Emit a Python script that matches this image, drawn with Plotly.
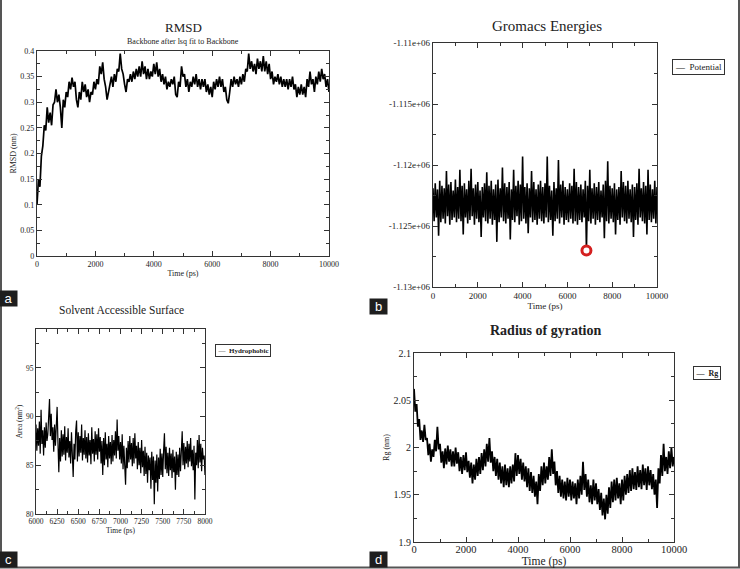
import plotly.graph_objects as go

# ---------------- data ----------------
rmsd_time = list(range(0, 10001, 50))
rmsd_nm = [
    0.100, 0.150, 0.135, 0.195, 0.215, 0.255, 0.245, 0.290, 0.260, 0.280,
    0.255, 0.295, 0.300, 0.325, 0.300, 0.315, 0.290, 0.250, 0.305, 0.290,
    0.320, 0.310, 0.340, 0.325, 0.348, 0.330, 0.340, 0.305, 0.290, 0.320,
    0.305, 0.340, 0.320, 0.335, 0.310, 0.325, 0.300, 0.320, 0.315, 0.340,
    0.325, 0.345, 0.335, 0.370, 0.355, 0.378, 0.345, 0.330, 0.305, 0.320,
    0.335, 0.350, 0.330, 0.355, 0.340, 0.365, 0.360, 0.395, 0.365, 0.355,
    0.335, 0.320, 0.345, 0.340, 0.355, 0.340, 0.360, 0.345, 0.365, 0.350,
    0.370, 0.350, 0.380, 0.355, 0.370, 0.345, 0.365, 0.345, 0.360, 0.350,
    0.375, 0.355, 0.378, 0.350, 0.365, 0.340, 0.355, 0.335, 0.350, 0.325,
    0.340, 0.330, 0.345, 0.335, 0.350, 0.315, 0.310, 0.340, 0.330, 0.370,
    0.350, 0.355, 0.330, 0.345, 0.320, 0.340, 0.330, 0.350, 0.335, 0.355,
    0.330, 0.345, 0.325, 0.345, 0.330, 0.345, 0.320, 0.335, 0.315, 0.330,
    0.310, 0.340, 0.325, 0.345, 0.330, 0.350, 0.330, 0.345, 0.320, 0.330,
    0.305, 0.298, 0.320, 0.345, 0.330, 0.350, 0.335, 0.345, 0.330, 0.350,
    0.335, 0.355, 0.340, 0.365, 0.360, 0.395, 0.365, 0.380, 0.360, 0.375,
    0.355, 0.385, 0.365, 0.380, 0.360, 0.390, 0.360, 0.380, 0.355, 0.375,
    0.345, 0.360, 0.335, 0.350, 0.340, 0.355, 0.335, 0.350, 0.330, 0.345,
    0.330, 0.345, 0.325, 0.345, 0.330, 0.350, 0.325, 0.335, 0.310, 0.330,
    0.315, 0.335, 0.315, 0.330, 0.310, 0.345, 0.330, 0.360, 0.335, 0.345,
    0.320, 0.350, 0.335, 0.360, 0.340, 0.365, 0.345, 0.355, 0.330, 0.345,
    0.320,
]

energy_time = list(range(0, 10001, 50))
potential = [
    -1121900, -1124600, -1121500, -1124300, -1122000, -1125800, -1121300, -1124700, -1121700, -1124400,
    -1121900, -1124800, -1120500, -1124200, -1121600, -1124900, -1121400, -1124500, -1122100, -1124300,
    -1121200, -1124700, -1121800, -1124400, -1120400, -1124600, -1121700, -1125700, -1121500, -1124300,
    -1122000, -1124800, -1121300, -1124500, -1120300, -1124200, -1121900, -1124900, -1121600, -1124400,
    -1121400, -1124700, -1122100, -1125900, -1121800, -1124300, -1121500, -1124600, -1120600, -1124800,
    -1121700, -1124400, -1121300, -1124900, -1122000, -1124500, -1121600, -1126300, -1121200, -1124700,
    -1121900, -1124300, -1120200, -1124600, -1121500, -1124800, -1121800, -1124400, -1121400, -1126100,
    -1122000, -1124500, -1120400, -1124700, -1121700, -1124200, -1121300, -1124900, -1121600, -1124600,
    -1119300, -1124400, -1121800, -1124800, -1121500, -1125600, -1121900, -1124300, -1120500, -1124700,
    -1121400, -1124500, -1122000, -1124900, -1121600, -1124400, -1121300, -1124600, -1121800, -1124800,
    -1121500, -1124300, -1119300, -1124700, -1121700, -1124500, -1122100, -1125800, -1121400, -1124600,
    -1121900, -1124400, -1119600, -1124800, -1121600, -1124300, -1121300, -1124900, -1121800, -1124500,
    -1122000, -1124700, -1121500, -1124400, -1121700, -1124800, -1120300, -1124600, -1121400, -1124900,
    -1121800, -1124500, -1121600, -1124700, -1122000, -1124300, -1121300, -1127000, -1121700, -1124600,
    -1120400, -1124800, -1121900, -1124400, -1121500, -1124900, -1121800, -1124500, -1121400, -1124700,
    -1122100, -1124300, -1121600, -1126000, -1121300, -1124600, -1119700, -1124800, -1121700, -1124400,
    -1121900, -1124700, -1121500, -1125700, -1122000, -1124500, -1121800, -1124900, -1120500, -1124300,
    -1121400, -1124600, -1121700, -1124800, -1121300, -1124400, -1122000, -1124700, -1121600, -1125900,
    -1121800, -1124500, -1121500, -1124900, -1120300, -1124300, -1121900, -1124600, -1121400, -1124800,
    -1121700, -1125700, -1120400, -1124500, -1121600, -1124700, -1122000, -1124400, -1121300, -1124800,
    -1121800,
]
energy_min_time = [6850]
energy_min_value = [-1127000]
energy_tickvals = [-1130000, -1125000, -1120000, -1115000, -1110000]
energy_ticktext = ["-1.13e+06", "-1.125e+06", "-1.12e+06", "-1.115e+06", "-1.11e+06"]

sasa_time = list(range(6000, 8001, 10))
hydrophobic = [
    89.2, 86.5, 88.8, 87.0, 89.5, 86.2, 90.7, 87.2, 88.6, 86.0,
    88.9, 86.8, 89.4, 87.5, 88.2, 89.8, 91.8, 88.0, 90.3, 87.6,
    88.9, 86.4, 89.2, 87.0, 88.6, 91.0, 87.3, 84.3, 87.8, 85.4,
    88.6, 85.9, 88.2, 86.1, 89.0, 85.5, 87.9, 86.3, 88.8, 85.8,
    87.5, 85.2, 88.4, 85.0, 83.8, 87.2, 85.6, 88.5, 89.6, 85.4,
    88.4, 85.9, 88.0, 86.3, 89.2, 85.5, 87.8, 86.1, 88.6, 85.7,
    87.9, 85.3, 88.3, 86.0, 87.6, 85.1, 88.9, 86.2, 87.7, 85.4,
    88.5, 86.1, 88.2, 85.6, 88.8, 86.4, 87.9, 85.2, 87.5, 84.0,
    87.8, 85.0, 88.4, 85.6, 87.2, 84.8, 88.0, 85.7, 87.4, 85.1,
    88.1, 85.4, 87.6, 86.0, 88.5, 85.7, 89.7, 86.5, 88.0, 85.6,
    87.4, 85.2, 88.2, 84.6, 87.0, 85.0, 83.0, 86.8, 84.7, 87.5,
    85.3, 88.0, 85.6, 87.3, 84.9, 87.8, 85.2, 88.3, 85.7, 87.0,
    84.6, 87.4, 85.0, 86.8, 84.2, 87.6, 84.8, 86.5, 83.9, 86.9,
    84.1, 86.3, 83.2, 86.0, 84.5, 85.8, 82.6, 86.4, 83.5, 85.9,
    81.0, 85.5, 83.2, 86.1, 82.3, 85.8, 83.6, 86.7, 84.0, 86.2,
    83.8, 86.5, 88.3, 84.6, 86.9, 84.2, 86.3, 83.9, 86.8, 84.5,
    86.2, 83.7, 86.6, 84.3, 85.9, 82.5, 86.4, 84.0, 86.1, 83.8,
    86.8, 84.4, 87.2, 88.5, 85.0, 87.3, 84.6, 86.9, 85.2, 87.5,
    84.8, 87.2, 85.4, 87.8, 84.9, 86.6, 84.5, 87.0, 81.5, 86.3,
    85.0, 87.6, 84.7, 88.1, 85.3, 87.2, 84.4, 86.8, 85.6, 86.0,
    84.0,
]

rg_time = list(range(0, 10001, 50))
rg_nm = [
    2.062, 2.038, 2.046, 2.022, 2.030, 2.008, 2.018, 2.006, 2.024, 2.008,
    2.010, 1.992, 2.004, 1.985, 1.998, 1.990, 2.008, 1.996, 2.022, 1.998,
    2.004, 1.984, 1.996, 1.978, 1.999, 1.982, 2.002, 1.985, 1.998, 1.980,
    1.996, 1.980, 2.000, 1.983, 1.995, 1.975, 1.990, 1.972, 1.992, 1.976,
    1.995, 1.974, 1.986, 1.968, 1.984, 1.962, 1.982, 1.966, 1.988, 1.970,
    1.990, 1.972, 1.994, 1.976, 1.998, 1.980, 2.004, 1.985, 2.010, 1.984,
    1.996, 1.975, 1.990, 1.970, 1.988, 1.966, 1.984, 1.962, 1.980, 1.958,
    1.982, 1.960, 1.978, 1.958, 1.980, 1.962, 1.982, 1.964, 1.994, 1.970,
    1.992, 1.972, 1.988, 1.966, 1.984, 1.964, 1.980, 1.958, 1.978, 1.954,
    1.974, 1.952, 1.970, 1.948, 1.964, 1.940, 1.972, 1.954, 1.980, 1.960,
    1.984, 1.962, 1.980, 1.966, 1.990, 1.970, 1.998, 1.972, 1.985, 1.960,
    1.975, 1.952, 1.970, 1.948, 1.966, 1.946, 1.964, 1.944, 1.968, 1.948,
    1.966, 1.944, 1.964, 1.946, 1.962, 1.940, 1.966, 1.946, 1.970, 1.950,
    1.985, 1.955, 1.972, 1.948, 1.966, 1.942, 1.960, 1.940, 1.966, 1.944,
    1.962, 1.940, 1.956, 1.934, 1.952, 1.928, 1.946, 1.924, 1.950, 1.930,
    1.958, 1.936, 1.964, 1.942, 1.966, 1.944, 1.968, 1.946, 1.962, 1.940,
    1.966, 1.944, 1.970, 1.950, 1.972, 1.952, 1.976, 1.954, 1.978, 1.956,
    1.974, 1.955, 1.980, 1.958, 1.976, 1.956, 1.982, 1.960, 1.978, 1.955,
    1.980, 1.960, 1.976, 1.956, 1.972, 1.950, 1.966, 1.936, 1.978, 1.962,
    1.992, 1.970, 2.004, 1.975, 1.990, 1.972, 1.996, 1.978, 2.000, 1.980,
    1.990,
]

# ---------------- layout helpers ----------------
W, H = 740, 569
SERIF = "Liberation Serif, Times New Roman, serif"
INK = "#222"


def px_x(x):
    return x / W


def px_y(y):
    return 1 - y / H


def axis(domain, anchor, rng, dtick, minor_dtick, title, tick_size, title_size,
         standoff=2, **extra):
    d = dict(
        domain=domain, anchor=anchor, range=rng, dtick=dtick, automargin=False,
        showgrid=False, zeroline=False, showline=True, linecolor="#333",
        linewidth=1.2, mirror="ticks", ticks="inside", ticklen=5,
        tickcolor="#333", tickwidth=1,
        tickfont=dict(family=SERIF, size=tick_size, color=INK),
        minor=dict(dtick=minor_dtick, ticks="inside", ticklen=3,
                   tickcolor="#333", showgrid=False),
    )
    if title:
        d["title"] = dict(text=title, font=dict(family=SERIF, size=title_size, color=INK),
                          standoff=standoff)
    d.update(extra)
    return d


fig = go.Figure()

fig.add_trace(go.Scatter(x=rmsd_time, y=rmsd_nm, mode="lines",
                         line=dict(color="black", width=1.7),
                         name="RMSD", xaxis="x", yaxis="y", showlegend=False))
fig.add_trace(go.Scatter(x=energy_time, y=potential, mode="lines",
                         line=dict(color="black", width=1.6),
                         name="Potential", xaxis="x2", yaxis="y2", showlegend=False))
fig.add_trace(go.Scatter(x=energy_min_time, y=energy_min_value, mode="markers",
                         marker=dict(symbol="circle", size=9, color="white",
                                     line=dict(color="#d42020", width=3)),
                         name="minimum", xaxis="x2", yaxis="y2", showlegend=False))
fig.add_trace(go.Scatter(x=sasa_time, y=hydrophobic, mode="lines",
                         line=dict(color="black", width=1.2),
                         name="Hydrophobic", xaxis="x3", yaxis="y3", showlegend=False))
fig.add_trace(go.Scatter(x=rg_time, y=rg_nm, mode="lines",
                         line=dict(color="black", width=1.8),
                         name="Rg", xaxis="x4", yaxis="y4", showlegend=False))

layout = dict(
    template="none",
    width=W, height=H, margin=dict(l=0, r=0, t=0, b=0, autoexpand=False),
    paper_bgcolor="white", plot_bgcolor="white", showlegend=False,
    font=dict(family=SERIF, color=INK),
    # panel a
    xaxis=axis([px_x(37), px_x(329)], "y", [0, 10000], 2000, 1000, "Time (ps)", 8, 8,
               tickformat="d"),
    yaxis=axis([px_y(256), px_y(51)], "x", [0, 0.4], 0.05, 0.025, "RMSD (nm)", 8, 8),
    # panel b
    xaxis2=axis([px_x(433), px_x(657)], "y2", [0, 10000], 2000, 1000, "Time (ps)", 9, 9,
                tickformat="d", standoff=0),
    yaxis2=axis([px_y(287), px_y(43)], "x2", [-1130000, -1110000], 5000, 2500, None, 9, 9,
                tickmode="array", tickvals=energy_tickvals, ticktext=energy_ticktext),
    # panel c
    xaxis3=axis([px_x(36), px_x(205)], "y3", [6000, 8000], 250, 125, "Time (ps)", 7.5, 7.5,
                tickformat="d", standoff=0),
    yaxis3=axis([px_y(514), px_y(329)], "x3", [80, 99], 5, 2.5, "Area (nm<sup>2</sup>)", 7.5, 7.5),
    # panel d
    xaxis4=axis([px_x(414), px_x(674)], "y4", [0, 10000], 2000, 1000, "Time (ps)", 10.5, 11.5,
                tickformat="d", standoff=0, ticklabelstandoff=-3),
    yaxis4=axis([px_y(542), px_y(353)], "x4", [1.9, 2.1], 0.05, 0.025, "Rg (nm)", 10, 8),
)
fig.update_layout(**layout)

ann = []
# titles
ann.append(dict(x=px_x(183), y=px_y(28), text="RMSD", font=dict(family=SERIF, size=13, color=INK)))
ann.append(dict(x=px_x(183), y=px_y(41), text="Backbone after lsq fit to Backbone",
                font=dict(family=SERIF, size=8, color=INK)))
ann.append(dict(x=px_x(547), y=px_y(26), text="Gromacs Energies", font=dict(family=SERIF, size=15, color=INK)))
ann.append(dict(x=px_x(121), y=px_y(310), text="Solvent Accessible Surface",
                font=dict(family=SERIF, size=11.5, color=INK)))
ann.append(dict(x=px_x(545), y=px_y(330), text="<b>Radius of gyration</b>",
                font=dict(family=SERIF, size=14, color=INK)))
# legend boxes
ann.append(dict(x=px_x(698.5), y=px_y(66.5), text="\u2014  Potential", bordercolor="#333",
                borderwidth=1, borderpad=2, font=dict(family=SERIF, size=9, color=INK)))
ann.append(dict(x=px_x(242.5), y=px_y(350), text="\u2014  <b>Hydrophobic</b>", bordercolor="#333",
                borderwidth=1, borderpad=1.5, font=dict(family=SERIF, size=7, color=INK)))
ann.append(dict(x=px_x(707), y=px_y(373), text="\u2014  <b>Rg</b>", bordercolor="#333",
                borderwidth=1, borderpad=1.5, font=dict(family=SERIF, size=8, color=INK)))
# panel letters
for letter, cx, cy in [("a", 8.5, 298), ("b", 378.5, 306.5), ("c", 8.5, 559), ("d", 378.5, 559)]:
    ann.append(dict(x=px_x(cx), y=px_y(cy), text=letter, bgcolor="#1e1e1e", width=15, height=13,
                    borderpad=1, font=dict(family="Liberation Sans, Arial, sans-serif", size=13, color="white")))
for a in ann:
    a.update(xref="paper", yref="paper", showarrow=False, xanchor="center", yanchor="middle")
fig.update_layout(annotations=ann)

# outer frame of the composite figure
frame = dict(type="line", xref="paper", yref="paper", line=dict(color="#555", width=2))
fig.update_layout(shapes=[
    dict(frame, x0=px_x(1), x1=px_x(1), y0=px_y(0), y1=px_y(568)),
    dict(frame, x0=px_x(0), x1=px_x(740), y0=px_y(567.5), y1=px_y(567.5)),
    dict(frame, x0=px_x(739), x1=px_x(739), y0=px_y(0), y1=px_y(568)),
])

# the page body normally has an 8px margin; remove it so the figure fills the window
fig.write_html("out.html", config={"displayModeBar": False},
               post_script="document.body.style.margin='0px';")
